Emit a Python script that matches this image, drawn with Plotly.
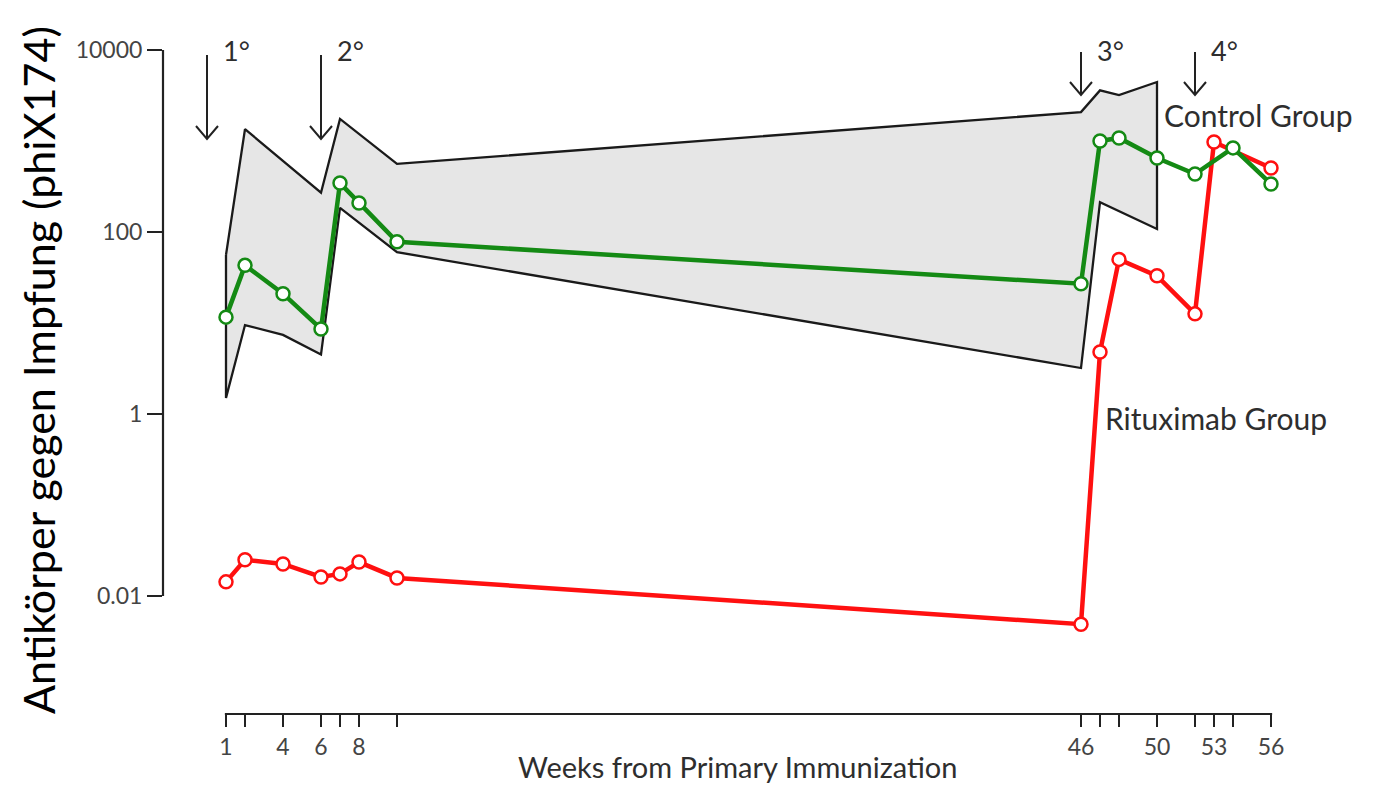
import numpy as np
import plotly.graph_objects as go

# ---------------- data ----------------
tick_weeks = [1, 2, 4, 6, 7, 8, 10, 46, 47, 48, 50, 52, 53, 54, 56]
tick_labels = ["1", "", "4", "6", "", "8", "", "46", "", "", "50", "", "53", "", "56"]

band_upper_weeks = [1, 2, 6, 7, 10, 46, 47, 48, 50]
band_upper = [56, 1350, 270, 1750, 560, 2080, 3600, 3200, 4450]
band_lower_weeks = [1, 2, 4, 6, 7, 10, 46, 47, 50]
band_lower = [1.5, 9.5, 7.4, 4.5, 184, 60, 3.2, 213, 108]

control_weeks = [1, 2, 4, 6, 7, 8, 10, 46, 47, 48, 50, 52, 54, 56]
control_titer = [11.6, 43, 21, 8.6, 345, 208, 78, 27, 1000, 1080, 650, 434, 840, 337]

ritux_weeks = [1, 2, 4, 6, 7, 8, 10, 46, 47, 48, 50, 52, 53, 56]
ritux_titer = [0.0143, 0.025, 0.0225, 0.0162, 0.0175, 0.0236, 0.0158, 0.0049,
               4.8, 50, 33, 12.6, 975, 505]

booster_weeks = [0, 6, 46, 52]
booster_labels = ["1°", "2°", "3°", "4°"]

y_tick_vals = [0.01, 1, 100, 10000]
y_tick_text = ["0.01", "1", "100", "10000"]

# ---------------- geometry (page pixels; body has an 8px margin) ----------------
OFF = 8
PAGE_W, PAGE_H = 1374, 793
W, H = PAGE_W - 2 * OFF, PAGE_H - 2 * OFF
P_LEFT, P_RIGHT, P_TOP, P_BOTTOM = 163, 1290, 40, 714      # plot area in page px
L, T = P_LEFT - OFF, P_TOP - OFF
R, B = W - (P_RIGHT - OFF), H - (P_BOTTOM - OFF)
PW, PH = P_RIGHT - P_LEFT, P_BOTTOM - P_TOP
XR = [1 + (P_LEFT - 226) / 19.0, 1 + (P_RIGHT - 226) / 19.0]
YR = [(414 - P_BOTTOM) / 91.0, (414 - P_TOP) / 91.0]


def xp(week):
    return (week - XR[0]) / (XR[1] - XR[0])


def yv(v):
    return (np.log10(v) - YR[0]) / (YR[1] - YR[0])


def xpx(px):
    return (px - P_LEFT) / PW


def ypx(py):
    return (P_BOTTOM - py) / PH


FONT = "Lato"
TXT = "#2e2e2e"
GREEN = "#148a14"
RED = "#ff1010"
AX = "#222222"

fig = go.Figure()

# shaded control range
bx = band_upper_weeks + band_lower_weeks[::-1] + [band_upper_weeks[0]]
by = band_upper + band_lower[::-1] + [band_upper[0]]
fig.add_trace(go.Scatter(x=bx, y=by, mode="lines", fill="toself",
                         fillcolor="#e6e6e6", line=dict(color="#1a1a1a", width=2.3),
                         hoverinfo="skip", showlegend=False))

fig.add_trace(go.Scatter(x=ritux_weeks, y=ritux_titer, mode="lines+markers",
                         line=dict(color=RED, width=4.5),
                         marker=dict(symbol="circle", size=13, color="white",
                                     line=dict(color=RED, width=2.5)),
                         showlegend=False, name="Rituximab Group"))

fig.add_trace(go.Scatter(x=control_weeks, y=control_titer, mode="lines+markers",
                         line=dict(color=GREEN, width=4.5),
                         marker=dict(symbol="circle", size=13, color="white",
                                     line=dict(color=GREEN, width=2.5)),
                         showlegend=False, name="Control Group"))

shapes = []
# y axis line
shapes.append(dict(type="line", xref="paper", yref="paper", x0=0, x1=0,
                   y0=yv(y_tick_vals[0]), y1=yv(y_tick_vals[-1]),
                   line=dict(color=AX, width=2.2)))
# x axis line
shapes.append(dict(type="line", xref="paper", yref="paper",
                   x0=xp(tick_weeks[0]) - 0.001, x1=xp(tick_weeks[-1]) + 0.001,
                   y0=0, y1=0, line=dict(color=AX, width=2.2)))

annotations = []
# booster arrows
tops = [55, 55, 52, 52]
tips = [139, 139, 95, 95]
for bw, lab, t0, t1 in zip(booster_weeks, booster_labels, tops, tips):
    ax = xp(bw)
    axpx = P_LEFT + ax * PW
    shapes.append(dict(type="line", xref="paper", yref="paper",
                       x0=ax, x1=ax, y0=ypx(t0), y1=ypx(t1),
                       line=dict(color=AX, width=2)))
    path = "M {:.5f},{:.5f} L {:.5f},{:.5f} L {:.5f},{:.5f}".format(
        xpx(axpx - 11), ypx(t1 - 13), ax, ypx(t1), xpx(axpx + 11), ypx(t1 - 13))
    shapes.append(dict(type="path", xref="paper", yref="paper", path=path,
                       line=dict(color=AX, width=2)))
    annotations.append(dict(x=xpx(axpx + 29), y=ypx(51), xref="paper", yref="paper",
                            text=lab, showarrow=False, xanchor="center", yanchor="middle",
                            font=dict(family=FONT, size=27, color=TXT)))

annotations.append(dict(x=xpx(1162), y=ypx(115), xref="paper", yref="paper",
                        text="Control Group", showarrow=False, xanchor="left",
                        yanchor="middle", font=dict(family=FONT, size=30, color=TXT)))
annotations.append(dict(x=xpx(1103), y=ypx(418), xref="paper", yref="paper",
                        text="Rituximab Group", showarrow=False, xanchor="left",
                        yanchor="middle", font=dict(family=FONT, size=30, color=TXT)))
annotations.append(dict(x=xpx(737), y=ypx(767), xref="paper", yref="paper",
                        text="Weeks from Primary Immunization", showarrow=False,
                        xanchor="center", yanchor="middle",
                        font=dict(family=FONT, size=29, color=TXT)))
annotations.append(dict(x=xpx(38), y=ypx(370), xref="paper", yref="paper",
                        text="Antikörper gegen Impfung (phiX174)", showarrow=False,
                        textangle=-90, xanchor="center", yanchor="middle",
                        font=dict(family=FONT, size=43, color="#000000")))

fig.update_layout(
    width=W, height=H,
    margin=dict(l=L, r=R, t=T, b=B, pad=0),
    paper_bgcolor="white", plot_bgcolor="white",
    showlegend=False,
    shapes=shapes, annotations=annotations,
    xaxis=dict(range=XR, showgrid=False, zeroline=False, showline=False,
               tickmode="array", tickvals=tick_weeks, ticktext=tick_labels,
               ticks="outside", ticklen=12, tickwidth=2, tickcolor=AX,
               tickfont=dict(family=FONT, size=23, color="#444444"), fixedrange=True),
    yaxis=dict(type="log", range=YR, showgrid=False, zeroline=False, showline=False,
               tickmode="array", tickvals=y_tick_vals, ticktext=y_tick_text,
               ticks="outside", ticklen=15, tickwidth=2, tickcolor=AX,
               tickfont=dict(family=FONT, size=23, color="#444444"), fixedrange=True),
)

fig.write_html("out.html")
